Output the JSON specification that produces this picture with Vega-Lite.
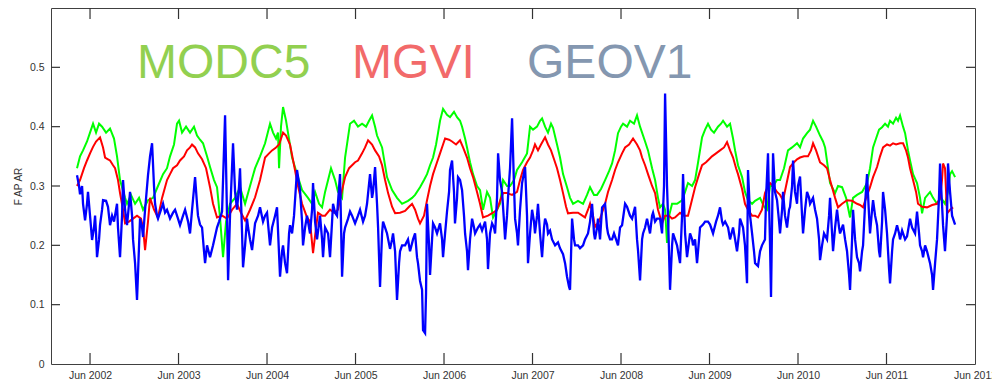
{
"$schema": "https://vega.github.io/schema/vega-lite/v6.json",
"width": 924, "height": 356,
"autosize": {"type": "none"},
"padding": {"left": 51, "top": 8, "right": 17, "bottom": 20},
"background": "white",
"config": {"view": {"stroke": "#404040", "strokeWidth": 1}, "font": "Liberation Sans"},
"datasets": {
"xt": [{"t":2002.414},{"t":2003.414},{"t":2004.414},{"t":2005.414},{"t":2006.414},{"t":2007.414},{"t":2008.414},{"t":2009.414},{"t":2010.414},{"t":2011.414}],
"yt": [{"v":0.1},{"v":0.2},{"v":0.3},{"v":0.4},{"v":0.5}],
"g": [{"t":2002.267,"v":0.33},{"t":2002.301,"v":0.35},{"t":2002.335,"v":0.36},{"t":2002.380,"v":0.375},{"t":2002.414,"v":0.39},{"t":2002.448,"v":0.405},{"t":2002.482,"v":0.39},{"t":2002.516,"v":0.405},{"t":2002.550,"v":0.40},{"t":2002.595,"v":0.39},{"t":2002.640,"v":0.397},{"t":2002.685,"v":0.38},{"t":2002.719,"v":0.35},{"t":2002.753,"v":0.31},{"t":2002.776,"v":0.298},{"t":2002.810,"v":0.28},{"t":2002.832,"v":0.27},{"t":2002.877,"v":0.285},{"t":2002.923,"v":0.27},{"t":2002.968,"v":0.28},{"t":2003.013,"v":0.26},{"t":2003.069,"v":0.276},{"t":2003.126,"v":0.28},{"t":2003.182,"v":0.30},{"t":2003.239,"v":0.32},{"t":2003.284,"v":0.33},{"t":2003.318,"v":0.35},{"t":2003.363,"v":0.37},{"t":2003.397,"v":0.405},{"t":2003.420,"v":0.41},{"t":2003.454,"v":0.39},{"t":2003.499,"v":0.40},{"t":2003.544,"v":0.39},{"t":2003.589,"v":0.40},{"t":2003.623,"v":0.385},{"t":2003.657,"v":0.378},{"t":2003.691,"v":0.372},{"t":2003.736,"v":0.35},{"t":2003.770,"v":0.332},{"t":2003.815,"v":0.31},{"t":2003.849,"v":0.298},{"t":2003.883,"v":0.247},{"t":2003.917,"v":0.18},{"t":2003.951,"v":0.24},{"t":2003.996,"v":0.27},{"t":2004.053,"v":0.28},{"t":2004.109,"v":0.298},{"t":2004.166,"v":0.27},{"t":2004.222,"v":0.30},{"t":2004.279,"v":0.33},{"t":2004.335,"v":0.35},{"t":2004.392,"v":0.372},{"t":2004.448,"v":0.405},{"t":2004.482,"v":0.39},{"t":2004.516,"v":0.38},{"t":2004.538,"v":0.39},{"t":2004.550,"v":0.33},{"t":2004.572,"v":0.40},{"t":2004.595,"v":0.433},{"t":2004.629,"v":0.41},{"t":2004.651,"v":0.39},{"t":2004.697,"v":0.348},{"t":2004.753,"v":0.32},{"t":2004.810,"v":0.293},{"t":2004.877,"v":0.28},{"t":2004.923,"v":0.27},{"t":2004.957,"v":0.29},{"t":2005.002,"v":0.27},{"t":2005.036,"v":0.264},{"t":2005.070,"v":0.29},{"t":2005.104,"v":0.31},{"t":2005.137,"v":0.33},{"t":2005.183,"v":0.31},{"t":2005.216,"v":0.29},{"t":2005.262,"v":0.28},{"t":2005.296,"v":0.348},{"t":2005.352,"v":0.405},{"t":2005.397,"v":0.41},{"t":2005.442,"v":0.40},{"t":2005.488,"v":0.405},{"t":2005.533,"v":0.40},{"t":2005.567,"v":0.41},{"t":2005.601,"v":0.419},{"t":2005.635,"v":0.40},{"t":2005.657,"v":0.385},{"t":2005.714,"v":0.365},{"t":2005.770,"v":0.315},{"t":2005.827,"v":0.293},{"t":2005.883,"v":0.28},{"t":2005.940,"v":0.27},{"t":2006.007,"v":0.275},{"t":2006.053,"v":0.28},{"t":2006.087,"v":0.285},{"t":2006.143,"v":0.298},{"t":2006.188,"v":0.31},{"t":2006.222,"v":0.32},{"t":2006.256,"v":0.335},{"t":2006.290,"v":0.348},{"t":2006.324,"v":0.37},{"t":2006.346,"v":0.389},{"t":2006.369,"v":0.41},{"t":2006.403,"v":0.43},{"t":2006.448,"v":0.42},{"t":2006.482,"v":0.416},{"t":2006.527,"v":0.425},{"t":2006.561,"v":0.416},{"t":2006.595,"v":0.41},{"t":2006.618,"v":0.40},{"t":2006.652,"v":0.38},{"t":2006.674,"v":0.365},{"t":2006.708,"v":0.34},{"t":2006.742,"v":0.32},{"t":2006.787,"v":0.30},{"t":2006.821,"v":0.293},{"t":2006.855,"v":0.26},{"t":2006.900,"v":0.29},{"t":2006.934,"v":0.28},{"t":2006.968,"v":0.247},{"t":2007.013,"v":0.26},{"t":2007.047,"v":0.27},{"t":2007.081,"v":0.31},{"t":2007.126,"v":0.30},{"t":2007.160,"v":0.30},{"t":2007.205,"v":0.31},{"t":2007.239,"v":0.327},{"t":2007.296,"v":0.34},{"t":2007.352,"v":0.355},{"t":2007.386,"v":0.40},{"t":2007.420,"v":0.395},{"t":2007.465,"v":0.40},{"t":2007.499,"v":0.41},{"t":2007.522,"v":0.414},{"t":2007.556,"v":0.40},{"t":2007.589,"v":0.39},{"t":2007.623,"v":0.405},{"t":2007.646,"v":0.398},{"t":2007.691,"v":0.37},{"t":2007.725,"v":0.348},{"t":2007.759,"v":0.32},{"t":2007.804,"v":0.298},{"t":2007.838,"v":0.28},{"t":2007.872,"v":0.27},{"t":2007.928,"v":0.275},{"t":2007.985,"v":0.27},{"t":2008.030,"v":0.285},{"t":2008.064,"v":0.298},{"t":2008.109,"v":0.285},{"t":2008.143,"v":0.285},{"t":2008.188,"v":0.295},{"t":2008.234,"v":0.31},{"t":2008.279,"v":0.325},{"t":2008.313,"v":0.338},{"t":2008.347,"v":0.36},{"t":2008.380,"v":0.389},{"t":2008.414,"v":0.40},{"t":2008.437,"v":0.405},{"t":2008.482,"v":0.40},{"t":2008.516,"v":0.41},{"t":2008.561,"v":0.405},{"t":2008.595,"v":0.419},{"t":2008.629,"v":0.40},{"t":2008.652,"v":0.39},{"t":2008.686,"v":0.375},{"t":2008.719,"v":0.36},{"t":2008.765,"v":0.33},{"t":2008.799,"v":0.31},{"t":2008.832,"v":0.28},{"t":2008.855,"v":0.264},{"t":2008.889,"v":0.27},{"t":2008.912,"v":0.26},{"t":2008.934,"v":0.204},{"t":2008.957,"v":0.25},{"t":2008.991,"v":0.27},{"t":2009.047,"v":0.27},{"t":2009.104,"v":0.276},{"t":2009.138,"v":0.29},{"t":2009.171,"v":0.305},{"t":2009.217,"v":0.30},{"t":2009.251,"v":0.31},{"t":2009.285,"v":0.34},{"t":2009.330,"v":0.382},{"t":2009.364,"v":0.395},{"t":2009.397,"v":0.405},{"t":2009.431,"v":0.395},{"t":2009.465,"v":0.39},{"t":2009.510,"v":0.40},{"t":2009.544,"v":0.405},{"t":2009.567,"v":0.41},{"t":2009.612,"v":0.40},{"t":2009.646,"v":0.405},{"t":2009.680,"v":0.38},{"t":2009.703,"v":0.36},{"t":2009.736,"v":0.335},{"t":2009.782,"v":0.315},{"t":2009.815,"v":0.29},{"t":2009.849,"v":0.276},{"t":2009.895,"v":0.27},{"t":2009.929,"v":0.275},{"t":2009.985,"v":0.28},{"t":2010.030,"v":0.265},{"t":2010.064,"v":0.26},{"t":2010.098,"v":0.30},{"t":2010.132,"v":0.30},{"t":2010.177,"v":0.31},{"t":2010.211,"v":0.31},{"t":2010.256,"v":0.33},{"t":2010.301,"v":0.36},{"t":2010.347,"v":0.365},{"t":2010.403,"v":0.372},{"t":2010.437,"v":0.365},{"t":2010.471,"v":0.38},{"t":2010.516,"v":0.389},{"t":2010.550,"v":0.395},{"t":2010.584,"v":0.41},{"t":2010.618,"v":0.40},{"t":2010.663,"v":0.385},{"t":2010.697,"v":0.375},{"t":2010.720,"v":0.365},{"t":2010.753,"v":0.33},{"t":2010.776,"v":0.305},{"t":2010.833,"v":0.288},{"t":2010.866,"v":0.30},{"t":2010.912,"v":0.298},{"t":2010.957,"v":0.28},{"t":2011.002,"v":0.247},{"t":2011.036,"v":0.28},{"t":2011.081,"v":0.285},{"t":2011.138,"v":0.29},{"t":2011.194,"v":0.305},{"t":2011.228,"v":0.33},{"t":2011.262,"v":0.365},{"t":2011.296,"v":0.38},{"t":2011.330,"v":0.395},{"t":2011.364,"v":0.399},{"t":2011.398,"v":0.405},{"t":2011.431,"v":0.40},{"t":2011.454,"v":0.41},{"t":2011.488,"v":0.405},{"t":2011.522,"v":0.415},{"t":2011.544,"v":0.41},{"t":2011.567,"v":0.419},{"t":2011.601,"v":0.40},{"t":2011.624,"v":0.389},{"t":2011.657,"v":0.36},{"t":2011.680,"v":0.343},{"t":2011.714,"v":0.32},{"t":2011.759,"v":0.305},{"t":2011.793,"v":0.28},{"t":2011.816,"v":0.254},{"t":2011.850,"v":0.28},{"t":2011.906,"v":0.29},{"t":2011.940,"v":0.28},{"t":2011.985,"v":0.27},{"t":2012.030,"v":0.28},{"t":2012.075,"v":0.27},{"t":2012.109,"v":0.29},{"t":2012.132,"v":0.32},{"t":2012.155,"v":0.325},{"t":2012.189,"v":0.315}],
"r": [{"t":2002.267,"v":0.30},{"t":2002.301,"v":0.31},{"t":2002.346,"v":0.33},{"t":2002.380,"v":0.343},{"t":2002.414,"v":0.355},{"t":2002.448,"v":0.366},{"t":2002.482,"v":0.375},{"t":2002.527,"v":0.382},{"t":2002.561,"v":0.365},{"t":2002.584,"v":0.348},{"t":2002.617,"v":0.345},{"t":2002.640,"v":0.343},{"t":2002.674,"v":0.335},{"t":2002.697,"v":0.33},{"t":2002.730,"v":0.31},{"t":2002.753,"v":0.288},{"t":2002.787,"v":0.26},{"t":2002.810,"v":0.237},{"t":2002.855,"v":0.24},{"t":2002.900,"v":0.245},{"t":2002.945,"v":0.25},{"t":2002.990,"v":0.245},{"t":2003.013,"v":0.23},{"t":2003.036,"v":0.192},{"t":2003.069,"v":0.24},{"t":2003.092,"v":0.28},{"t":2003.137,"v":0.26},{"t":2003.182,"v":0.247},{"t":2003.228,"v":0.28},{"t":2003.284,"v":0.31},{"t":2003.318,"v":0.32},{"t":2003.352,"v":0.33},{"t":2003.397,"v":0.335},{"t":2003.431,"v":0.343},{"t":2003.476,"v":0.35},{"t":2003.510,"v":0.36},{"t":2003.544,"v":0.365},{"t":2003.567,"v":0.37},{"t":2003.601,"v":0.365},{"t":2003.634,"v":0.355},{"t":2003.680,"v":0.345},{"t":2003.725,"v":0.33},{"t":2003.770,"v":0.298},{"t":2003.804,"v":0.27},{"t":2003.849,"v":0.247},{"t":2003.906,"v":0.25},{"t":2003.962,"v":0.245},{"t":2004.019,"v":0.26},{"t":2004.075,"v":0.27},{"t":2004.120,"v":0.255},{"t":2004.166,"v":0.242},{"t":2004.222,"v":0.26},{"t":2004.279,"v":0.281},{"t":2004.335,"v":0.31},{"t":2004.392,"v":0.348},{"t":2004.437,"v":0.355},{"t":2004.471,"v":0.36},{"t":2004.516,"v":0.365},{"t":2004.550,"v":0.37},{"t":2004.595,"v":0.39},{"t":2004.629,"v":0.385},{"t":2004.674,"v":0.37},{"t":2004.730,"v":0.327},{"t":2004.764,"v":0.30},{"t":2004.810,"v":0.27},{"t":2004.866,"v":0.247},{"t":2004.900,"v":0.24},{"t":2004.934,"v":0.187},{"t":2004.968,"v":0.23},{"t":2004.990,"v":0.255},{"t":2005.036,"v":0.25},{"t":2005.070,"v":0.25},{"t":2005.126,"v":0.26},{"t":2005.171,"v":0.255},{"t":2005.216,"v":0.26},{"t":2005.250,"v":0.285},{"t":2005.296,"v":0.315},{"t":2005.341,"v":0.33},{"t":2005.375,"v":0.335},{"t":2005.409,"v":0.34},{"t":2005.442,"v":0.343},{"t":2005.488,"v":0.355},{"t":2005.522,"v":0.365},{"t":2005.556,"v":0.377},{"t":2005.601,"v":0.37},{"t":2005.635,"v":0.36},{"t":2005.680,"v":0.35},{"t":2005.714,"v":0.335},{"t":2005.748,"v":0.31},{"t":2005.782,"v":0.288},{"t":2005.827,"v":0.265},{"t":2005.861,"v":0.254},{"t":2005.917,"v":0.255},{"t":2005.974,"v":0.258},{"t":2006.019,"v":0.265},{"t":2006.053,"v":0.27},{"t":2006.087,"v":0.26},{"t":2006.120,"v":0.245},{"t":2006.143,"v":0.237},{"t":2006.188,"v":0.25},{"t":2006.222,"v":0.276},{"t":2006.256,"v":0.30},{"t":2006.290,"v":0.32},{"t":2006.335,"v":0.34},{"t":2006.369,"v":0.355},{"t":2006.403,"v":0.37},{"t":2006.426,"v":0.38},{"t":2006.471,"v":0.378},{"t":2006.505,"v":0.375},{"t":2006.550,"v":0.37},{"t":2006.595,"v":0.377},{"t":2006.629,"v":0.365},{"t":2006.674,"v":0.348},{"t":2006.708,"v":0.33},{"t":2006.742,"v":0.315},{"t":2006.787,"v":0.29},{"t":2006.821,"v":0.27},{"t":2006.855,"v":0.247},{"t":2006.911,"v":0.25},{"t":2006.968,"v":0.255},{"t":2007.013,"v":0.26},{"t":2007.047,"v":0.275},{"t":2007.081,"v":0.288},{"t":2007.126,"v":0.288},{"t":2007.183,"v":0.285},{"t":2007.239,"v":0.29},{"t":2007.273,"v":0.31},{"t":2007.307,"v":0.327},{"t":2007.352,"v":0.34},{"t":2007.386,"v":0.348},{"t":2007.420,"v":0.36},{"t":2007.442,"v":0.37},{"t":2007.476,"v":0.36},{"t":2007.510,"v":0.37},{"t":2007.556,"v":0.382},{"t":2007.589,"v":0.37},{"t":2007.623,"v":0.36},{"t":2007.657,"v":0.345},{"t":2007.691,"v":0.33},{"t":2007.725,"v":0.31},{"t":2007.759,"v":0.288},{"t":2007.793,"v":0.265},{"t":2007.815,"v":0.254},{"t":2007.872,"v":0.255},{"t":2007.928,"v":0.255},{"t":2008.007,"v":0.247},{"t":2008.041,"v":0.26},{"t":2008.064,"v":0.27},{"t":2008.098,"v":0.25},{"t":2008.120,"v":0.231},{"t":2008.166,"v":0.24},{"t":2008.200,"v":0.255},{"t":2008.234,"v":0.27},{"t":2008.267,"v":0.29},{"t":2008.313,"v":0.31},{"t":2008.347,"v":0.327},{"t":2008.380,"v":0.34},{"t":2008.426,"v":0.355},{"t":2008.460,"v":0.365},{"t":2008.505,"v":0.37},{"t":2008.550,"v":0.38},{"t":2008.595,"v":0.37},{"t":2008.629,"v":0.36},{"t":2008.652,"v":0.348},{"t":2008.686,"v":0.335},{"t":2008.719,"v":0.32},{"t":2008.765,"v":0.30},{"t":2008.799,"v":0.288},{"t":2008.832,"v":0.26},{"t":2008.878,"v":0.237},{"t":2008.912,"v":0.25},{"t":2008.957,"v":0.25},{"t":2008.991,"v":0.245},{"t":2009.025,"v":0.247},{"t":2009.081,"v":0.255},{"t":2009.126,"v":0.25},{"t":2009.171,"v":0.25},{"t":2009.205,"v":0.27},{"t":2009.251,"v":0.298},{"t":2009.296,"v":0.32},{"t":2009.330,"v":0.335},{"t":2009.375,"v":0.34},{"t":2009.409,"v":0.345},{"t":2009.442,"v":0.35},{"t":2009.488,"v":0.355},{"t":2009.533,"v":0.36},{"t":2009.578,"v":0.365},{"t":2009.612,"v":0.374},{"t":2009.646,"v":0.36},{"t":2009.680,"v":0.348},{"t":2009.714,"v":0.33},{"t":2009.736,"v":0.32},{"t":2009.782,"v":0.295},{"t":2009.815,"v":0.27},{"t":2009.849,"v":0.26},{"t":2009.895,"v":0.25},{"t":2009.929,"v":0.25},{"t":2009.962,"v":0.247},{"t":2010.007,"v":0.26},{"t":2010.041,"v":0.288},{"t":2010.075,"v":0.30},{"t":2010.098,"v":0.305},{"t":2010.132,"v":0.30},{"t":2010.177,"v":0.29},{"t":2010.211,"v":0.285},{"t":2010.245,"v":0.276},{"t":2010.279,"v":0.30},{"t":2010.324,"v":0.332},{"t":2010.369,"v":0.34},{"t":2010.403,"v":0.345},{"t":2010.437,"v":0.348},{"t":2010.482,"v":0.35},{"t":2010.527,"v":0.35},{"t":2010.561,"v":0.36},{"t":2010.584,"v":0.372},{"t":2010.618,"v":0.36},{"t":2010.663,"v":0.34},{"t":2010.708,"v":0.335},{"t":2010.742,"v":0.33},{"t":2010.776,"v":0.31},{"t":2010.799,"v":0.298},{"t":2010.833,"v":0.28},{"t":2010.866,"v":0.264},{"t":2010.912,"v":0.27},{"t":2010.968,"v":0.276},{"t":2011.025,"v":0.275},{"t":2011.081,"v":0.27},{"t":2011.115,"v":0.268},{"t":2011.149,"v":0.264},{"t":2011.183,"v":0.28},{"t":2011.228,"v":0.298},{"t":2011.262,"v":0.315},{"t":2011.307,"v":0.332},{"t":2011.341,"v":0.35},{"t":2011.375,"v":0.365},{"t":2011.420,"v":0.37},{"t":2011.454,"v":0.368},{"t":2011.488,"v":0.372},{"t":2011.522,"v":0.37},{"t":2011.567,"v":0.372},{"t":2011.601,"v":0.372},{"t":2011.635,"v":0.36},{"t":2011.657,"v":0.348},{"t":2011.680,"v":0.33},{"t":2011.714,"v":0.31},{"t":2011.748,"v":0.29},{"t":2011.770,"v":0.27},{"t":2011.816,"v":0.265},{"t":2011.872,"v":0.264},{"t":2011.929,"v":0.268},{"t":2011.985,"v":0.27},{"t":2012.019,"v":0.28},{"t":2012.041,"v":0.31},{"t":2012.053,"v":0.338},{"t":2012.075,"v":0.33},{"t":2012.098,"v":0.254},{"t":2012.132,"v":0.26},{"t":2012.166,"v":0.264}],
"b": [{"t":2002.267,"v":0.318},{"t":2002.290,"v":0.30},{"t":2002.301,"v":0.286},{"t":2002.324,"v":0.30},{"t":2002.335,"v":0.27},{"t":2002.358,"v":0.242},{"t":2002.380,"v":0.27},{"t":2002.391,"v":0.29},{"t":2002.414,"v":0.25},{"t":2002.437,"v":0.209},{"t":2002.459,"v":0.23},{"t":2002.471,"v":0.25},{"t":2002.482,"v":0.22},{"t":2002.493,"v":0.18},{"t":2002.516,"v":0.21},{"t":2002.527,"v":0.234},{"t":2002.550,"v":0.26},{"t":2002.561,"v":0.276},{"t":2002.595,"v":0.275},{"t":2002.617,"v":0.265},{"t":2002.640,"v":0.234},{"t":2002.663,"v":0.25},{"t":2002.685,"v":0.24},{"t":2002.719,"v":0.27},{"t":2002.730,"v":0.23},{"t":2002.753,"v":0.18},{"t":2002.776,"v":0.25},{"t":2002.787,"v":0.31},{"t":2002.810,"v":0.26},{"t":2002.832,"v":0.234},{"t":2002.855,"v":0.27},{"t":2002.866,"v":0.29},{"t":2002.889,"v":0.25},{"t":2002.900,"v":0.21},{"t":2002.923,"v":0.17},{"t":2002.945,"v":0.108},{"t":2002.968,"v":0.20},{"t":2002.979,"v":0.245},{"t":2003.002,"v":0.23},{"t":2003.013,"v":0.214},{"t":2003.036,"v":0.26},{"t":2003.069,"v":0.318},{"t":2003.092,"v":0.35},{"t":2003.115,"v":0.372},{"t":2003.137,"v":0.30},{"t":2003.149,"v":0.27},{"t":2003.171,"v":0.25},{"t":2003.182,"v":0.245},{"t":2003.216,"v":0.26},{"t":2003.239,"v":0.27},{"t":2003.262,"v":0.255},{"t":2003.284,"v":0.26},{"t":2003.307,"v":0.25},{"t":2003.318,"v":0.245},{"t":2003.352,"v":0.255},{"t":2003.375,"v":0.26},{"t":2003.408,"v":0.245},{"t":2003.431,"v":0.234},{"t":2003.465,"v":0.25},{"t":2003.488,"v":0.26},{"t":2003.522,"v":0.24},{"t":2003.544,"v":0.22},{"t":2003.567,"v":0.26},{"t":2003.601,"v":0.315},{"t":2003.623,"v":0.27},{"t":2003.634,"v":0.25},{"t":2003.657,"v":0.235},{"t":2003.680,"v":0.23},{"t":2003.702,"v":0.19},{"t":2003.714,"v":0.17},{"t":2003.736,"v":0.20},{"t":2003.770,"v":0.18},{"t":2003.804,"v":0.20},{"t":2003.849,"v":0.23},{"t":2003.872,"v":0.24},{"t":2003.906,"v":0.257},{"t":2003.940,"v":0.419},{"t":2003.962,"v":0.25},{"t":2003.974,"v":0.141},{"t":2003.996,"v":0.25},{"t":2004.030,"v":0.372},{"t":2004.053,"v":0.29},{"t":2004.075,"v":0.26},{"t":2004.098,"v":0.30},{"t":2004.109,"v":0.33},{"t":2004.132,"v":0.22},{"t":2004.143,"v":0.163},{"t":2004.166,"v":0.20},{"t":2004.188,"v":0.245},{"t":2004.200,"v":0.23},{"t":2004.222,"v":0.21},{"t":2004.245,"v":0.192},{"t":2004.279,"v":0.237},{"t":2004.313,"v":0.25},{"t":2004.335,"v":0.264},{"t":2004.369,"v":0.24},{"t":2004.392,"v":0.25},{"t":2004.414,"v":0.255},{"t":2004.448,"v":0.20},{"t":2004.471,"v":0.23},{"t":2004.505,"v":0.25},{"t":2004.527,"v":0.264},{"t":2004.561,"v":0.147},{"t":2004.584,"v":0.19},{"t":2004.595,"v":0.20},{"t":2004.618,"v":0.17},{"t":2004.640,"v":0.153},{"t":2004.663,"v":0.22},{"t":2004.674,"v":0.234},{"t":2004.697,"v":0.22},{"t":2004.719,"v":0.25},{"t":2004.753,"v":0.327},{"t":2004.787,"v":0.293},{"t":2004.810,"v":0.24},{"t":2004.821,"v":0.20},{"t":2004.844,"v":0.23},{"t":2004.866,"v":0.25},{"t":2004.900,"v":0.22},{"t":2004.923,"v":0.26},{"t":2004.934,"v":0.305},{"t":2004.957,"v":0.24},{"t":2004.979,"v":0.21},{"t":2005.013,"v":0.25},{"t":2005.036,"v":0.21},{"t":2005.047,"v":0.18},{"t":2005.070,"v":0.23},{"t":2005.104,"v":0.22},{"t":2005.126,"v":0.18},{"t":2005.149,"v":0.24},{"t":2005.160,"v":0.27},{"t":2005.183,"v":0.255},{"t":2005.205,"v":0.25},{"t":2005.239,"v":0.32},{"t":2005.262,"v":0.147},{"t":2005.284,"v":0.22},{"t":2005.296,"v":0.23},{"t":2005.330,"v":0.245},{"t":2005.352,"v":0.257},{"t":2005.375,"v":0.25},{"t":2005.409,"v":0.237},{"t":2005.442,"v":0.25},{"t":2005.465,"v":0.26},{"t":2005.499,"v":0.24},{"t":2005.522,"v":0.25},{"t":2005.544,"v":0.27},{"t":2005.578,"v":0.32},{"t":2005.601,"v":0.28},{"t":2005.612,"v":0.29},{"t":2005.635,"v":0.332},{"t":2005.657,"v":0.27},{"t":2005.669,"v":0.23},{"t":2005.691,"v":0.13},{"t":2005.714,"v":0.22},{"t":2005.725,"v":0.24},{"t":2005.748,"v":0.23},{"t":2005.770,"v":0.22},{"t":2005.804,"v":0.194},{"t":2005.827,"v":0.21},{"t":2005.838,"v":0.22},{"t":2005.861,"v":0.19},{"t":2005.883,"v":0.108},{"t":2005.906,"v":0.17},{"t":2005.917,"v":0.19},{"t":2005.940,"v":0.20},{"t":2005.974,"v":0.20},{"t":2006.007,"v":0.21},{"t":2006.030,"v":0.19},{"t":2006.064,"v":0.21},{"t":2006.087,"v":0.22},{"t":2006.109,"v":0.18},{"t":2006.120,"v":0.17},{"t":2006.143,"v":0.14},{"t":2006.166,"v":0.125},{"t":2006.177,"v":0.057},{"t":2006.200,"v":0.052},{"t":2006.211,"v":0.12},{"t":2006.222,"v":0.27},{"t":2006.245,"v":0.20},{"t":2006.256,"v":0.15},{"t":2006.279,"v":0.21},{"t":2006.290,"v":0.237},{"t":2006.313,"v":0.23},{"t":2006.335,"v":0.22},{"t":2006.369,"v":0.237},{"t":2006.392,"v":0.21},{"t":2006.403,"v":0.18},{"t":2006.426,"v":0.22},{"t":2006.448,"v":0.257},{"t":2006.471,"v":0.29},{"t":2006.482,"v":0.327},{"t":2006.505,"v":0.343},{"t":2006.527,"v":0.29},{"t":2006.538,"v":0.237},{"t":2006.561,"v":0.28},{"t":2006.572,"v":0.315},{"t":2006.595,"v":0.31},{"t":2006.618,"v":0.293},{"t":2006.640,"v":0.25},{"t":2006.652,"v":0.22},{"t":2006.674,"v":0.19},{"t":2006.685,"v":0.158},{"t":2006.708,"v":0.21},{"t":2006.731,"v":0.245},{"t":2006.753,"v":0.23},{"t":2006.765,"v":0.22},{"t":2006.798,"v":0.23},{"t":2006.821,"v":0.235},{"t":2006.844,"v":0.225},{"t":2006.878,"v":0.24},{"t":2006.900,"v":0.21},{"t":2006.911,"v":0.16},{"t":2006.934,"v":0.22},{"t":2006.957,"v":0.237},{"t":2006.979,"v":0.23},{"t":2006.991,"v":0.22},{"t":2007.013,"v":0.28},{"t":2007.025,"v":0.355},{"t":2007.047,"v":0.31},{"t":2007.070,"v":0.29},{"t":2007.092,"v":0.24},{"t":2007.104,"v":0.21},{"t":2007.126,"v":0.25},{"t":2007.137,"v":0.28},{"t":2007.160,"v":0.33},{"t":2007.183,"v":0.414},{"t":2007.205,"v":0.30},{"t":2007.217,"v":0.245},{"t":2007.239,"v":0.22},{"t":2007.250,"v":0.20},{"t":2007.273,"v":0.26},{"t":2007.296,"v":0.305},{"t":2007.330,"v":0.332},{"t":2007.352,"v":0.25},{"t":2007.363,"v":0.17},{"t":2007.386,"v":0.22},{"t":2007.409,"v":0.26},{"t":2007.431,"v":0.24},{"t":2007.442,"v":0.22},{"t":2007.465,"v":0.25},{"t":2007.476,"v":0.27},{"t":2007.499,"v":0.22},{"t":2007.522,"v":0.18},{"t":2007.544,"v":0.23},{"t":2007.556,"v":0.245},{"t":2007.578,"v":0.235},{"t":2007.589,"v":0.22},{"t":2007.612,"v":0.225},{"t":2007.635,"v":0.21},{"t":2007.669,"v":0.20},{"t":2007.702,"v":0.205},{"t":2007.725,"v":0.195},{"t":2007.759,"v":0.185},{"t":2007.782,"v":0.17},{"t":2007.804,"v":0.147},{"t":2007.827,"v":0.13},{"t":2007.838,"v":0.125},{"t":2007.861,"v":0.245},{"t":2007.883,"v":0.21},{"t":2007.895,"v":0.20},{"t":2007.928,"v":0.20},{"t":2007.951,"v":0.195},{"t":2007.985,"v":0.20},{"t":2008.007,"v":0.21},{"t":2008.041,"v":0.22},{"t":2008.064,"v":0.24},{"t":2008.087,"v":0.27},{"t":2008.109,"v":0.22},{"t":2008.120,"v":0.21},{"t":2008.143,"v":0.23},{"t":2008.154,"v":0.245},{"t":2008.177,"v":0.21},{"t":2008.200,"v":0.264},{"t":2008.234,"v":0.27},{"t":2008.256,"v":0.23},{"t":2008.267,"v":0.22},{"t":2008.290,"v":0.21},{"t":2008.313,"v":0.21},{"t":2008.335,"v":0.22},{"t":2008.358,"v":0.21},{"t":2008.380,"v":0.20},{"t":2008.403,"v":0.23},{"t":2008.426,"v":0.234},{"t":2008.460,"v":0.27},{"t":2008.482,"v":0.265},{"t":2008.516,"v":0.25},{"t":2008.539,"v":0.245},{"t":2008.573,"v":0.265},{"t":2008.595,"v":0.21},{"t":2008.607,"v":0.19},{"t":2008.629,"v":0.141},{"t":2008.652,"v":0.21},{"t":2008.663,"v":0.22},{"t":2008.686,"v":0.23},{"t":2008.708,"v":0.245},{"t":2008.742,"v":0.22},{"t":2008.765,"v":0.25},{"t":2008.776,"v":0.255},{"t":2008.799,"v":0.24},{"t":2008.821,"v":0.245},{"t":2008.855,"v":0.245},{"t":2008.878,"v":0.22},{"t":2008.900,"v":0.30},{"t":2008.912,"v":0.456},{"t":2008.934,"v":0.30},{"t":2008.946,"v":0.245},{"t":2008.968,"v":0.125},{"t":2008.991,"v":0.20},{"t":2009.002,"v":0.22},{"t":2009.025,"v":0.21},{"t":2009.047,"v":0.20},{"t":2009.081,"v":0.17},{"t":2009.104,"v":0.25},{"t":2009.115,"v":0.32},{"t":2009.138,"v":0.22},{"t":2009.160,"v":0.18},{"t":2009.194,"v":0.22},{"t":2009.217,"v":0.21},{"t":2009.228,"v":0.20},{"t":2009.251,"v":0.21},{"t":2009.273,"v":0.17},{"t":2009.307,"v":0.23},{"t":2009.341,"v":0.235},{"t":2009.364,"v":0.24},{"t":2009.397,"v":0.24},{"t":2009.420,"v":0.235},{"t":2009.454,"v":0.22},{"t":2009.488,"v":0.24},{"t":2009.510,"v":0.25},{"t":2009.533,"v":0.264},{"t":2009.556,"v":0.24},{"t":2009.567,"v":0.235},{"t":2009.590,"v":0.24},{"t":2009.624,"v":0.23},{"t":2009.646,"v":0.21},{"t":2009.680,"v":0.23},{"t":2009.703,"v":0.21},{"t":2009.725,"v":0.19},{"t":2009.748,"v":0.22},{"t":2009.759,"v":0.245},{"t":2009.793,"v":0.23},{"t":2009.815,"v":0.20},{"t":2009.838,"v":0.136},{"t":2009.849,"v":0.327},{"t":2009.872,"v":0.25},{"t":2009.895,"v":0.22},{"t":2009.917,"v":0.19},{"t":2009.929,"v":0.17},{"t":2009.962,"v":0.165},{"t":2009.985,"v":0.19},{"t":2010.007,"v":0.20},{"t":2010.041,"v":0.21},{"t":2010.053,"v":0.28},{"t":2010.075,"v":0.355},{"t":2010.098,"v":0.20},{"t":2010.109,"v":0.113},{"t":2010.132,"v":0.355},{"t":2010.154,"v":0.29},{"t":2010.177,"v":0.276},{"t":2010.200,"v":0.24},{"t":2010.211,"v":0.22},{"t":2010.234,"v":0.26},{"t":2010.245,"v":0.29},{"t":2010.267,"v":0.25},{"t":2010.290,"v":0.23},{"t":2010.313,"v":0.26},{"t":2010.324,"v":0.265},{"t":2010.347,"v":0.30},{"t":2010.358,"v":0.343},{"t":2010.380,"v":0.29},{"t":2010.403,"v":0.27},{"t":2010.414,"v":0.30},{"t":2010.437,"v":0.316},{"t":2010.460,"v":0.25},{"t":2010.471,"v":0.22},{"t":2010.494,"v":0.26},{"t":2010.516,"v":0.29},{"t":2010.539,"v":0.28},{"t":2010.550,"v":0.27},{"t":2010.584,"v":0.28},{"t":2010.607,"v":0.26},{"t":2010.629,"v":0.245},{"t":2010.652,"v":0.21},{"t":2010.663,"v":0.175},{"t":2010.686,"v":0.20},{"t":2010.708,"v":0.22},{"t":2010.742,"v":0.21},{"t":2010.765,"v":0.25},{"t":2010.776,"v":0.28},{"t":2010.799,"v":0.22},{"t":2010.810,"v":0.19},{"t":2010.833,"v":0.23},{"t":2010.855,"v":0.26},{"t":2010.878,"v":0.23},{"t":2010.889,"v":0.22},{"t":2010.923,"v":0.235},{"t":2010.946,"v":0.21},{"t":2010.968,"v":0.19},{"t":2010.991,"v":0.15},{"t":2011.002,"v":0.125},{"t":2011.025,"v":0.21},{"t":2011.036,"v":0.26},{"t":2011.059,"v":0.21},{"t":2011.081,"v":0.18},{"t":2011.104,"v":0.17},{"t":2011.115,"v":0.156},{"t":2011.138,"v":0.19},{"t":2011.149,"v":0.20},{"t":2011.172,"v":0.27},{"t":2011.194,"v":0.32},{"t":2011.217,"v":0.25},{"t":2011.228,"v":0.22},{"t":2011.251,"v":0.26},{"t":2011.262,"v":0.276},{"t":2011.285,"v":0.25},{"t":2011.307,"v":0.234},{"t":2011.330,"v":0.19},{"t":2011.341,"v":0.18},{"t":2011.364,"v":0.24},{"t":2011.375,"v":0.29},{"t":2011.398,"v":0.26},{"t":2011.420,"v":0.22},{"t":2011.443,"v":0.16},{"t":2011.454,"v":0.136},{"t":2011.477,"v":0.19},{"t":2011.488,"v":0.21},{"t":2011.511,"v":0.22},{"t":2011.533,"v":0.234},{"t":2011.556,"v":0.22},{"t":2011.567,"v":0.21},{"t":2011.590,"v":0.225},{"t":2011.601,"v":0.22},{"t":2011.624,"v":0.21},{"t":2011.646,"v":0.215},{"t":2011.680,"v":0.245},{"t":2011.703,"v":0.23},{"t":2011.737,"v":0.22},{"t":2011.759,"v":0.257},{"t":2011.782,"v":0.22},{"t":2011.793,"v":0.20},{"t":2011.816,"v":0.19},{"t":2011.827,"v":0.18},{"t":2011.850,"v":0.20},{"t":2011.872,"v":0.19},{"t":2011.906,"v":0.17},{"t":2011.929,"v":0.15},{"t":2011.940,"v":0.125},{"t":2011.963,"v":0.17},{"t":2011.985,"v":0.21},{"t":2012.007,"v":0.28},{"t":2012.019,"v":0.338},{"t":2012.041,"v":0.27},{"t":2012.053,"v":0.234},{"t":2012.075,"v":0.19},{"t":2012.098,"v":0.25},{"t":2012.109,"v":0.338},{"t":2012.132,"v":0.29},{"t":2012.155,"v":0.25},{"t":2012.189,"v":0.235}],
"lab": [{"name":"MODC5","t":2002.945,"v":0.482},{"name":"MGVI","t":2005.375,"v":0.482},{"name":"GEOV1","t":2007.352,"v":0.482}]
},
"layer": [
{"data": {"name": "xt"},
 "mark": {"type": "rule", "color": "#333333", "strokeWidth": 1.2},
 "encoding": {
  "x": {"field": "t", "type": "quantitative", "scale": {"domain": [2001.973, 2012.414], "nice": false, "zero": false},
        "axis": {"orient": "bottom", "title": null, "domain": false, "ticks": false, "tickSize": 0, "grid": false,
                 "values": [2002.414,2003.414,2004.414,2005.414,2006.414,2007.414,2008.414,2009.414,2010.414,2011.414,2012.414],
                 "labelExpr": "'Jun ' + floor(datum.value)", "labelFont": "Liberation Sans", "labelFontSize": 10.5, "labelColor": "#333333",
                 "labelFlush": false, "labelOverlap": false, "labelPadding": 6}},
  "y": {"datum": 0, "type": "quantitative", "scale": {"domain": [0, 0.6], "nice": false},
        "axis": {"orient": "left", "title": "F AP AR", "domain": false, "ticks": false, "tickSize": 0, "grid": false,
                 "values": [0,0.1,0.2,0.3,0.4,0.5],
                 "labelExpr": "datum.value == 0 ? '0' : format(datum.value, '.1f')",
                 "labelFont": "Liberation Sans", "labelFontSize": 10.5, "labelColor": "#333333", "labelPadding": 7,
                 "titleFont": "Liberation Sans", "titleFontSize": 10, "titleFontWeight": "normal", "titleColor": "#333333", "titlePadding": 6}},
  "y2": {"datum": 0.0185}
 }},
{"data": {"name": "xt"},
 "mark": {"type": "rule", "color": "#333333", "strokeWidth": 1.2},
 "encoding": {
  "x": {"field": "t", "type": "quantitative"},
  "y": {"datum": 0.6, "type": "quantitative"},
  "y2": {"datum": 0.5815}
 }},
{"data": {"name": "yt"},
 "mark": {"type": "rule", "color": "#333333", "strokeWidth": 1.2},
 "encoding": {
  "y": {"field": "v", "type": "quantitative"},
  "x": {"datum": 2001.973, "type": "quantitative"},
  "x2": {"datum": 2002.075}
 }},
{"data": {"name": "yt"},
 "mark": {"type": "rule", "color": "#333333", "strokeWidth": 1.2},
 "encoding": {
  "y": {"field": "v", "type": "quantitative"},
  "x": {"datum": 2012.414, "type": "quantitative"},
  "x2": {"datum": 2012.312}
 }},
{"data": {"name": "g"},
 "mark": {"type": "line", "color": "#00ff00", "strokeWidth": 2},
 "encoding": {
  "x": {"field": "t", "type": "quantitative"},
  "y": {"field": "v", "type": "quantitative"}
 }},
{"data": {"name": "r"},
 "mark": {"type": "line", "color": "#ff0000", "strokeWidth": 2},
 "encoding": {
  "x": {"field": "t", "type": "quantitative"},
  "y": {"field": "v", "type": "quantitative"}
 }},
{"data": {"name": "b"},
 "mark": {"type": "line", "color": "#0000ff", "strokeWidth": 2.3},
 "encoding": {
  "x": {"field": "t", "type": "quantitative"},
  "y": {"field": "v", "type": "quantitative"}
 }},
{"data": {"name": "lab"},
 "mark": {"type": "text", "fontSize": 48, "font": "Liberation Sans", "align": "left", "baseline": "alphabetic"},
 "encoding": {
  "x": {"field": "t", "type": "quantitative"},
  "y": {"field": "v", "type": "quantitative"},
  "text": {"field": "name"},
  "color": {"field": "name", "type": "nominal", "scale": {"domain": ["MODC5","MGVI","GEOV1"], "range": ["#92D050","#F26A6A","#8497B0"]}, "legend": null}
 }}
]
}
